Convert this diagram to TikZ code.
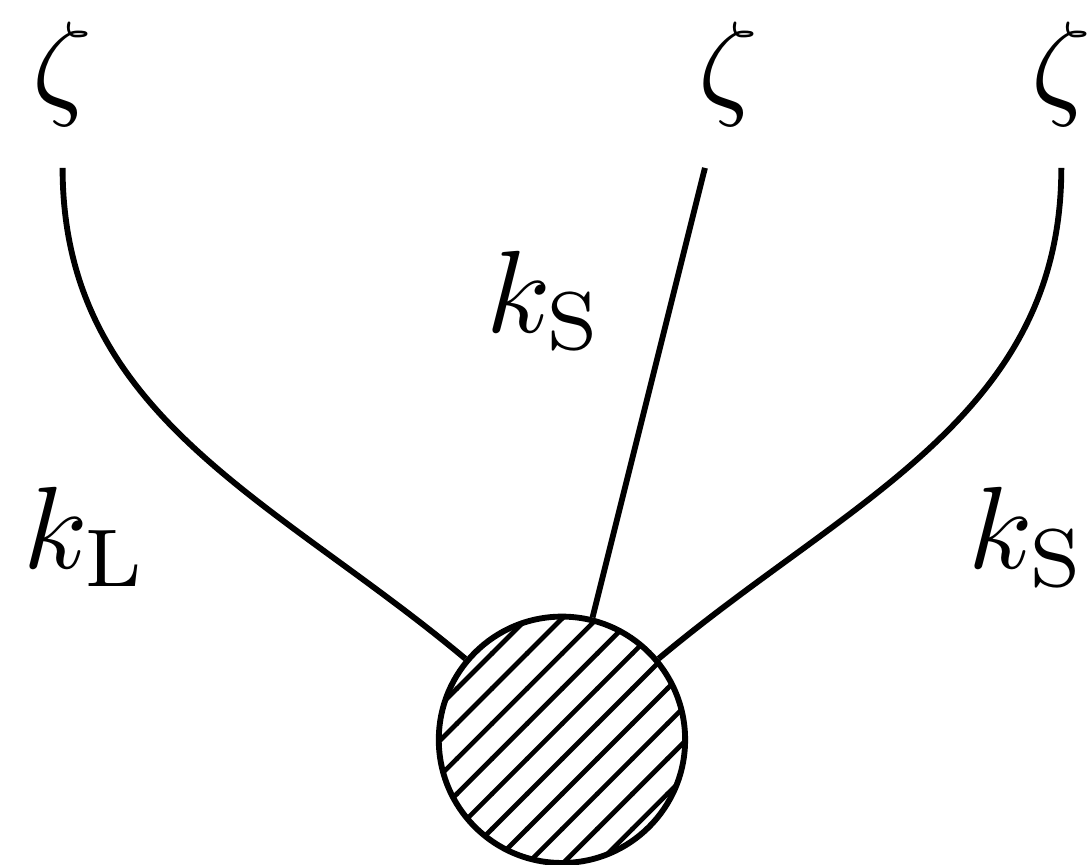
\documentclass[tikz,border=0pt]{standalone}
\usepackage{tikz}
\usetikzlibrary{patterns, positioning}
\usepackage{amsmath}

\begin{document}
\begin{tikzpicture}[x=1cm,y=1cm,line width=0.5pt]
  \useasboundingbox (-1.688,-0.375) rectangle (1.592,2.222);
  \node[circle, draw, minimum size=0.74cm, inner sep=0pt, pattern=north east lines] (blob) at (0,0) {};
  \node (zetaL) at (-1.5,2) {$\zeta$};
  \node (zetaM) at (0.5,2) {$\zeta$};
  \node (zetaR) at (1.5,2) {$\zeta$};
  \draw (zetaL) to[out=-90, in=140] (blob);
  \draw (zetaM) -- (blob);
  \draw (zetaR) to[out=-90, in=40] (blob);
  \node (kL) at (-1.43,0.61) {$k_{\mathrm{L}}$};
  \node (kSmid) at (-0.05,1.32) {$k_{\mathrm{S}}$};
  \node (kSright) at (1.40,0.61) {$k_{\mathrm{S}}$};
\end{tikzpicture}
\end{document}
